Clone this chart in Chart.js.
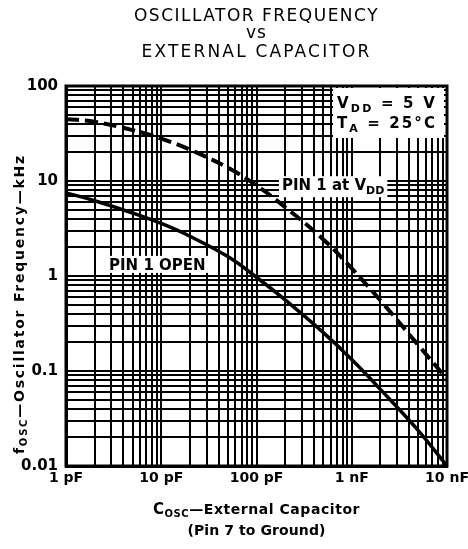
<!DOCTYPE html>
<html>
<head>
<meta charset="utf-8">
<script src="https://cdn.jsdelivr.net/npm/chart.js@4.4.1/dist/chart.umd.min.js"></script>
<style>
  html, body { margin: 0; padding: 0; background: #fff; }
  canvas { display: block; }
</style>
</head>
<body>
<canvas id="myChart" width="468" height="549"></canvas>
<script>
// valores (C en pF, f en kHz)
const capPF = [1, 2, 5, 10, 20, 50, 100, 200, 500, 1000, 2000, 5000, 10000];
const freqOpen = [7.5, 6.2, 4.6, 3.57, 2.62, 1.6, 0.97, 0.56, 0.255, 0.132, 0.064, 0.0236, 0.01];
const freqVdd = [45, 42, 34.3, 27.9, 21.4, 13.8, 8.98, 5.3, 2.44, 1.2, 0.553, 0.187, 0.082];

const xDecades = [1, 10, 100, 1000, 10000];
const xLabels = ['1 pF', '10 pF', '100 pF', '1 nF', '10 nF'];
const yDecades = [0.01, 0.1, 1, 10, 100];
const yLabels = ['0.01', '0.1', '1', '10', '100'];

const FAM = '"DejaVu Sans", "Liberation Sans", sans-serif';

// ticks 1..9 por decada para la rejilla
function logTicks(decades) {
  const out = [];
  for (let i = 0; i < decades.length - 1; i++) {
    for (let m = 1; m <= 9; m++) out.push({ value: Number((decades[i] * m).toPrecision(6)) });
  }
  out.push({ value: decades[decades.length - 1] });
  return out;
}

function labelFor(v, decades, labels) {
  const i = decades.findIndex(d => Math.abs(d - v) / d < 1e-6);
  return i >= 0 ? labels[i] : '';
}

// texto en trozos (subindices), con espaciado para ajustar al ancho
function runsWidth(ctx, runs) {
  let w = 0, n = 0;
  runs.forEach(r => {
    ctx.font = r.f;
    ctx.letterSpacing = '0px';
    w += ctx.measureText(r.t).width;
    n += r.t.length;
  });
  return { w, n };
}

function drawRuns(ctx, runs, x, y, opts) {
  opts = opts || {};
  const m = runsWidth(ctx, runs);
  let ls = opts.width ? (opts.width - m.w) / m.n : (opts.ls || 0);
  const total = m.w + ls * m.n;
  let cx = opts.align === 'center' ? x - total / 2 : x;
  runs.forEach(r => {
    ctx.font = r.f;
    ctx.letterSpacing = '0px';
    const w0 = ctx.measureText(r.t).width;
    ctx.letterSpacing = ls + 'px';
    ctx.fillText(r.t, cx, y + (r.dy || 0));
    cx += w0 + ls * r.t.length;
  });
  ctx.letterSpacing = '0px';
}

const textos = {
  id: 'textos',
  afterDraw(chart) {
    const ctx = chart.ctx;
    const { left, right, top, bottom } = chart.chartArea;
    const xs = chart.scales.x, ys = chart.scales.y;
    const B15 = 'bold 15px ' + FAM, B14 = 'bold 14px ' + FAM;
    const S11 = 'bold 11px ' + FAM, S10 = 'bold 10px ' + FAM;
    ctx.save();
    ctx.fillStyle = '#000';
    ctx.textBaseline = 'alphabetic';
    ctx.textAlign = 'left';

    // marco
    ctx.strokeStyle = '#000';
    ctx.lineWidth = 3;
    ctx.strokeRect(left, top, right - left, bottom - top);

    // titulo
    const cx = (left + right) / 2;
    drawRuns(ctx, [{ t: 'OSCILLATOR FREQUENCY', f: '17px ' + FAM }], cx, 21, { align: 'center', width: 245 });
    drawRuns(ctx, [{ t: 'vs', f: '17px ' + FAM }], cx, 38, { align: 'center', ls: 1 });
    drawRuns(ctx, [{ t: 'EXTERNAL CAPACITOR', f: '17px ' + FAM }], cx, 57, { align: 'center', width: 230 });

    // titulo eje x
    drawRuns(ctx, [
      { t: 'C', f: B15 }, { t: 'OSC', f: S10, dy: 3 }, { t: '\u2014External Capacitor', f: B14 }
    ], cx, 514, { align: 'center', width: 207 });
    drawRuns(ctx, [{ t: '(Pin 7 to Ground)', f: B14 }], cx, 535, { align: 'center', width: 138 });

    // titulo eje y
    ctx.save();
    ctx.translate(24, 304);
    ctx.rotate(-Math.PI / 2);
    drawRuns(ctx, [
      { t: 'f', f: B14 }, { t: 'OSC', f: S10, dy: 3 }, { t: '\u2014Oscillator Frequency\u2014kHz', f: B14 }
    ], 0, 0, { align: 'center', width: 300 });
    ctx.restore();

    // etiquetas de curvas
    let px = xs.getPixelForValue(2.83), py = ys.getPixelForValue(1.16);
    let runs = [{ t: 'PIN 1 OPEN', f: B15 }];
    let m = runsWidth(ctx, runs);
    ctx.fillStyle = '#fff';
    ctx.fillRect(px - 3, py - 14, m.w + 6, 17);
    ctx.fillStyle = '#000';
    drawRuns(ctx, runs, px, py);

    px = xs.getPixelForValue(185); py = ys.getPixelForValue(8.0);
    runs = [{ t: 'PIN 1 at V', f: B15 }, { t: 'DD', f: S11, dy: 4 }];
    m = runsWidth(ctx, runs);
    ctx.fillStyle = '#fff';
    ctx.fillRect(px - 3, py - 14, m.w + 6, 21);
    ctx.fillStyle = '#000';
    drawRuns(ctx, runs, px, py);

    // condiciones
    ctx.fillStyle = '#fff';
    ctx.fillRect(right - 114, top + 2, 111, 50);
    ctx.fillStyle = '#000';
    drawRuns(ctx, [{ t: 'V', f: B15 }, { t: 'DD', f: S11, dy: 4 }, { t: ' = 5 V', f: B15 }], right - 110, top + 22, { width: 100 });
    drawRuns(ctx, [{ t: 'T', f: B15 }, { t: 'A', f: S11, dy: 4 }, { t: ' = 25\u00b0C', f: B15 }], right - 110, top + 42, { width: 100 });
    ctx.restore();
  }
};

const ctx = document.getElementById('myChart');

new Chart(ctx, {
  type: 'line',
  data: {
    datasets: [{
      label: 'PIN 1 at VDD',
      data: capPF.map((c, i) => ({ x: c, y: freqVdd[i] })),
      borderColor: '#000',
      borderWidth: 4,
      borderDash: [13, 6],
      pointRadius: 0,
      tension: 0.4,
      fill: false
    }, {
      label: 'PIN 1 OPEN',
      data: capPF.map((c, i) => ({ x: c, y: freqOpen[i] })),
      borderColor: '#000',
      borderWidth: 3.5,
      pointRadius: 0,
      tension: 0.4,
      fill: false
    }]
  },
  options: {
    responsive: false,
    animation: false,
    layout: { padding: { top: 86, right: 21, left: 0, bottom: 0 } },
    plugins: { legend: { display: false }, tooltip: { enabled: false } },
    scales: {
      x: {
        type: 'logarithmic',
        min: 1,
        max: 10000,
        afterBuildTicks: s => { s.ticks = logTicks(xDecades); },
        afterFit: s => { s.height = 83; s.paddingLeft = 0; s.paddingRight = 0; },
        grid: { color: '#000', lineWidth: 2, drawTicks: false },
        border: { color: '#000', width: 3 },
        ticks: {
          autoSkip: false, maxRotation: 0, padding: 4, color: '#000',
          font: { family: FAM, size: 14, weight: 'bold' },
          callback: v => labelFor(v, xDecades, xLabels)
        }
      },
      y: {
        type: 'logarithmic',
        min: 0.01,
        max: 100,
        afterBuildTicks: s => { s.ticks = logTicks(yDecades); },
        afterFit: s => { s.width = 66; },
        grid: { color: '#000', lineWidth: 2, drawTicks: false },
        border: { color: '#000', width: 3 },
        ticks: {
          autoSkip: false, padding: 8, color: '#000',
          font: { family: FAM, size: 15, weight: 'bold' },
          callback: v => labelFor(v, yDecades, yLabels)
        }
      }
    }
  },
  plugins: [textos]
});
</script>
</body>
</html>
